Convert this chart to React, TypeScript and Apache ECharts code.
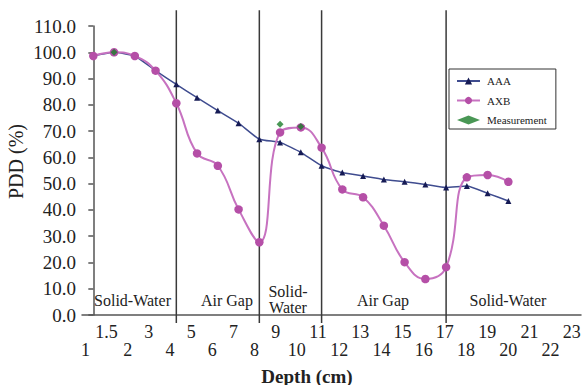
import React, { useEffect, useRef } from "react";
import * as echarts from "echarts";

// ---- data ----
const depthPoints = [0, 1, 2, 3, 4, 5, 6, 7, 8, 9, 10, 11, 12, 13, 14, 15, 16, 17, 18, 19, 20];
const aaaValues = [98.6, 100, 98.6, 93.0, 87.8, 82.7, 77.8, 73.0, 66.9, 65.7, 61.9, 56.8, 54.2, 52.9, 51.6, 50.7, 49.7, 48.5, 49.1, 46.3, 43.4];
const axbValues = [98.6, 100, 98.6, 93.0, 80.6, 61.5, 56.8, 40.2, 27.7, 69.5, 71.4, 63.7, 47.8, 44.8, 34.0, 20.1, 13.7, 18.2, 52.4, 53.3, 50.7];
const measurementDepths = [1, 9, 10];
const measurementValues = [100, 72.6, 71.7];
const xTickLabels = ["1", "1.5", "2", "3", "4", "5", "6", "7", "8", "9", "10", "11", "12", "13", "14", "15", "16", "17", "18", "19", "20", "21", "22", "23"];
const regionBoundaries = [4, 8, 11, 17];
const regionNames = ["Solid-Water", "Air Gap", "Solid-\nWater", "Air Gap", "Solid-Water"];

// ---- layout ----
const LABEL_START = -0.38;
const LABEL_STEP = 1.0188;
const regionLabelAnchors = [
  [1.89, 5.4],
  [6.44, 5.4],
  [9.38, 5.9],
  [13.96, 5.4],
  [19.98, 5.4],
];
const SERIF = "serif";

export default function App() {
  const ref = useRef<HTMLDivElement>(null);

  useEffect(() => {
    if (!ref.current) return;
    const chart = echarts.init(ref.current, undefined, { renderer: "svg" });
    const labelPositions = xTickLabels.map((_, i) => +(LABEL_START + i * LABEL_STEP).toFixed(4));

    const option: any = {
      animation: false,
      backgroundColor: "#ffffff",
      textStyle: { fontFamily: SERIF },
      grid: { left: 82, right: 3, top: 26, bottom: 70, containLabel: false },
      legend: {
        data: ["AAA", "AXB", "Measurement"],
        orient: "vertical",
        left: 449,
        top: 69,
        padding: [6, 9, 3, 7],
        itemWidth: 23,
        itemHeight: 9,
        itemGap: 7.5,
        backgroundColor: "#ffffff",
        borderColor: "#333333",
        borderWidth: 1,
        textStyle: { fontFamily: SERIF, fontSize: 11, color: "#222", lineHeight: 12, padding: [0, 0, 0, 2] },
      },
      xAxis: {
        type: "value",
        min: -0.545,
        max: 23.5,
        axisLine: { show: true, onZero: false, lineStyle: { color: "#555", width: 1.5 } },
        axisTick: { show: false },
        splitLine: { show: false },
        axisLabel: {
          customValues: labelPositions,
          margin: 8,
          fontFamily: SERIF,
          fontSize: 18,
          lineHeight: 18,
          color: "#222",
          verticalAlign: "top",
          formatter: (val: number) => {
            let best = 0;
            let bd = Infinity;
            labelPositions.forEach((p, i) => {
              const d = Math.abs(p - val);
              if (d < bd) {
                bd = d;
                best = i;
              }
            });
            const t = xTickLabels[best];
            return best % 2 === 1 ? t + "\n " : " \n" + t;
          },
        },
      },
      yAxis: {
        type: "value",
        min: 0,
        max: 110,
        interval: 10,
        axisLine: { show: true, lineStyle: { color: "#555", width: 1.5 } },
        axisTick: { show: true, length: 5, lineStyle: { color: "#555", width: 1.5 } },
        splitLine: { show: false },
        axisLabel: {
          margin: 6,
          fontFamily: SERIF,
          fontSize: 19,
          color: "#222",
          formatter: (v: number) => v.toFixed(1),
        },
      },
      graphic: [
        {
          type: "text",
          x: 15.5,
          y: 161.5,
          rotation: Math.PI / 2,
          style: {
            text: "PDD (%)",
            fontFamily: SERIF,
            fontSize: 20,
            fill: "#222",
            align: "center",
            verticalAlign: "middle",
          },
        },
        {
          type: "text",
          x: 307,
          y: 376,
          style: {
            text: "Depth (cm)",
            fontFamily: SERIF,
            fontSize: 19,
            fontWeight: "bold",
            fill: "#222",
            align: "center",
            verticalAlign: "middle",
          },
        },
      ],
      series: [
        {
          name: "dividers",
          type: "custom",
          clip: false,
          silent: true,
          data: regionBoundaries.map((d) => [d, 0]),
          renderItem: (_p: any, api: any) => {
            const x = api.value(0);
            const top = api.coord([x, 116]);
            const bot = api.coord([x, -3]);
            return {
              type: "line",
              shape: { x1: top[0], y1: top[1], x2: bot[0], y2: bot[1] },
              style: { stroke: "#3a3a3a", lineWidth: 1.5 },
            };
          },
          z: 1,
        },
        {
          name: "regions",
          type: "custom",
          clip: false,
          silent: true,
          data: regionNames.map((n, i) => [regionLabelAnchors[i][0], regionLabelAnchors[i][1], i]),
          renderItem: (_p: any, api: any) => {
            const idx = api.value(2);
            const pt = api.coord([api.value(0), api.value(1)]);
            return {
              type: "text",
              x: pt[0],
              y: pt[1],
              style: {
                text: regionNames[idx],
                fontFamily: SERIF,
                fontSize: 16,
                lineHeight: 15.5,
                fill: "#222",
                align: "center",
                verticalAlign: "middle",
              },
            };
          },
          z: 1,
        },
        {
          name: "AAA",
          type: "line",
          data: depthPoints.map((d, i) => [d, aaaValues[i]]),
          symbol: "triangle",
          symbolSize: 6,
          smooth: 0.15,
          itemStyle: { color: "#161b55" },
          lineStyle: { color: "#3f4c8f", width: 1.5 },
          z: 3,
        },
        {
          name: "AXB",
          type: "line",
          data: depthPoints.map((d, i) => [d, axbValues[i]]),
          symbol: "circle",
          symbolSize: 8.5,
          smooth: 0.45,
          itemStyle: { color: "#b54fa7" },
          lineStyle: { color: "#c772c0", width: 2 },
          z: 4,
        },
        {
          name: "Measurement",
          type: "scatter",
          data: measurementDepths.map((d, i) => [d, measurementValues[i]]),
          symbol: "diamond",
          symbolSize: 7,
          itemStyle: { color: "#1b7d2b" },
          z: 5,
        },
      ],
    };

    chart.setOption(option);
    return () => chart.dispose();
  }, []);

  return (
    <div
      ref={ref}
      style={{ position: "absolute", left: 0, top: 0, width: 584, height: 385 }}
    />
  );
}
